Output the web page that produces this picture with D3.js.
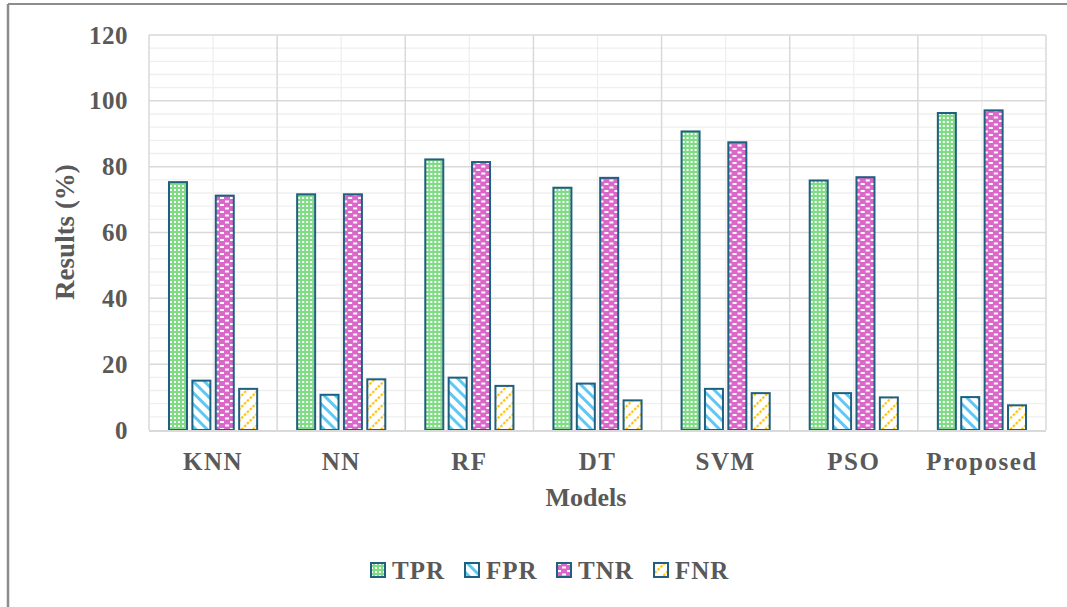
<!DOCTYPE html>
<html>
<head>
<meta charset="utf-8">
<script src="https://cdn.jsdelivr.net/npm/d3@7"></script>
<style>
html,body{margin:0;padding:0;background:#fff;}
svg{display:block;}
text{font-family:"Liberation Serif","Times New Roman",serif;font-weight:bold;fill:#595959;}
</style>
</head>
<body>
<svg id="chart" width="1067" height="607"></svg>
<script>
const categories = ["KNN","NN","RF","DT","SVM","PSO","Proposed"];
const seriesNames = ["TPR","FPR","TNR","FNR"];
const TPR = [75.3, 71.6, 82.2, 73.6, 90.7, 75.8, 96.3];
const FPR = [15.0, 10.7, 15.9, 14.1, 12.5, 11.2, 10.0];
const TNR = [71.2, 71.6, 81.4, 76.6, 87.4, 76.8, 97.1];
const FNR = [12.5, 15.4, 13.4, 9.0, 11.2, 9.9, 7.5];
const yTicks = [0, 20, 40, 60, 80, 100, 120];

const seriesValues = {TPR, FPR, TNR, FNR};

const svg = d3.select("#chart");
const W = 1067, H = 607;
const m = {left:149, right:1046, top:35, bottom:430};

// outer frame (top and left visible)
svg.append("line").attr("x1",8).attr("x2",W).attr("y1",4).attr("y2",4)
  .attr("stroke","#8c8c8c").attr("stroke-width",2);
svg.append("line").attr("x1",8).attr("x2",8).attr("y1",4).attr("y2",H)
  .attr("stroke","#8c8c8c").attr("stroke-width",2.5);

// patterns
const defs = svg.append("defs");
let p = defs.append("pattern").attr("id","pTPR").attr("patternUnits","userSpaceOnUse")
  .attr("width",4).attr("height",4);
p.append("rect").attr("width",4).attr("height",4).attr("fill","#7fdc85");
p.append("rect").attr("x",1).attr("y",1).attr("width",2).attr("height",2).attr("fill","#ffffff");
p = defs.append("pattern").attr("id","pFPR").attr("patternUnits","userSpaceOnUse")
  .attr("width",8).attr("height",8).attr("patternTransform","rotate(-45)");
p.append("rect").attr("width",8).attr("height",8).attr("fill","#ffffff");
p.append("rect").attr("x",0).attr("y",0).attr("width",3).attr("height",8).attr("fill","#5ec8f2");
p = defs.append("pattern").attr("id","pTNR").attr("patternUnits","userSpaceOnUse")
  .attr("width",10).attr("height",7);
p.append("rect").attr("width",10).attr("height",7).attr("fill","#d968c9");
p.append("rect").attr("x",1).attr("y",1).attr("width",4).attr("height",2).attr("fill","#ffffff");
p.append("rect").attr("x",6).attr("y",4.5).attr("width",4).attr("height",2).attr("fill","#ffffff");
p = defs.append("pattern").attr("id","pFNR").attr("patternUnits","userSpaceOnUse")
  .attr("width",8).attr("height",8).attr("patternTransform","rotate(45)");
p.append("rect").attr("width",8).attr("height",8).attr("fill","#ffffff");
p.append("rect").attr("x",0).attr("y",0).attr("width",2.2).attr("height",2.5).attr("fill","#ffc000");
p.append("rect").attr("x",0).attr("y",4).attr("width",2.2).attr("height",2.5).attr("fill","#ffc000");

const fills = {TPR:"url(#pTPR)", FPR:"url(#pFPR)", TNR:"url(#pTNR)", FNR:"url(#pFNR)"};

const x0 = d3.scaleBand().domain(categories).range([m.left, m.right]).paddingInner(0).paddingOuter(0);
const bw = x0.bandwidth();
const x1 = d3.scaleBand().domain(seriesNames).range([bw*0.156, bw*0.844]).paddingInner(0.23);
const y = d3.scaleLinear().domain([0,120]).range([m.bottom, m.top]);

const minor = d3.range(0, 121, 4).filter(v => v % 20 !== 0);
svg.append("g").selectAll("line").data(minor).join("line")
  .attr("x1",m.left).attr("x2",m.right).attr("y1",d=>y(d)).attr("y2",d=>y(d))
  .attr("stroke","#efefef").attr("stroke-width",1.3);
svg.append("g").selectAll("line").data(categories).join("line")
  .attr("x1",d=>x0(d)+bw/2).attr("x2",d=>x0(d)+bw/2).attr("y1",m.top).attr("y2",m.bottom)
  .attr("stroke","#efefef").attr("stroke-width",1.3);
svg.append("g").selectAll("line").data(yTicks.filter(v=>v>0)).join("line")
  .attr("x1",m.left).attr("x2",m.right).attr("y1",d=>y(d)).attr("y2",d=>y(d))
  .attr("stroke","#d9d9d9").attr("stroke-width",1.5);
const bounds = categories.map(c=>x0(c)).concat([m.right]);
svg.append("g").selectAll("line").data(bounds).join("line")
  .attr("x1",d=>d).attr("x2",d=>d).attr("y1",m.top).attr("y2",m.bottom)
  .attr("stroke","#d9d9d9").attr("stroke-width",1.5);

const groups = svg.append("g").selectAll("g").data(categories).join("g")
  .attr("transform", d=>`translate(${x0(d)},0)`);
groups.selectAll("rect").data((c,i)=>seriesNames.map(s=>({s, v:seriesValues[s][i]}))).join("rect")
  .attr("x", d=>x1(d.s)).attr("width", x1.bandwidth())
  .attr("y", d=>y(d.v)).attr("height", d=>y(0)-y(d.v))
  .attr("fill", d=>fills[d.s]).attr("stroke","#1f5f80").attr("stroke-width",2);

svg.append("line").attr("x1",m.left).attr("x2",m.right).attr("y1",y(0)+1).attr("y2",y(0)+1)
  .attr("stroke","#d9d9d9").attr("stroke-width",2);

const yAxis = svg.append("g").attr("transform",`translate(${m.left},0)`)
  .call(d3.axisLeft(y).tickValues(yTicks).tickSize(0).tickPadding(21));
yAxis.select(".domain").remove();
yAxis.selectAll("text").attr("font-size",25).attr("letter-spacing","0.5px")
  .style("font-family","'Liberation Serif',serif").style("font-weight","bold").attr("fill","#595959");

const xAxis = svg.append("g").attr("transform",`translate(0,${m.bottom})`)
  .call(d3.axisBottom(x0).tickSize(0).tickPadding(22));
xAxis.select(".domain").remove();
xAxis.selectAll("text").attr("font-size",25).attr("letter-spacing","1.5px")
  .style("font-family","'Liberation Serif',serif").style("font-weight","bold").attr("fill","#595959");

svg.append("text").attr("x",586).attr("y",506).attr("text-anchor","middle")
  .attr("font-size",26).text("Models");
svg.append("text").attr("transform",`translate(74,${232}) rotate(-90)`)
  .attr("text-anchor","middle").attr("font-size",27).text("Results (%)");

const legendX = [370, 464, 556, 653];
const lg = svg.append("g").selectAll("g").data(seriesNames).join("g")
  .attr("transform",(d,i)=>`translate(${legendX[i]},562)`);
lg.append("rect").attr("x",1).attr("y",1).attr("width",14).attr("height",14)
  .attr("fill",d=>fills[d]).attr("stroke","#1f5f80").attr("stroke-width",2);
lg.append("text").attr("x",22).attr("y",17).attr("font-size",25).attr("letter-spacing","1px").text(d=>d);
</script>
</body>
</html>
